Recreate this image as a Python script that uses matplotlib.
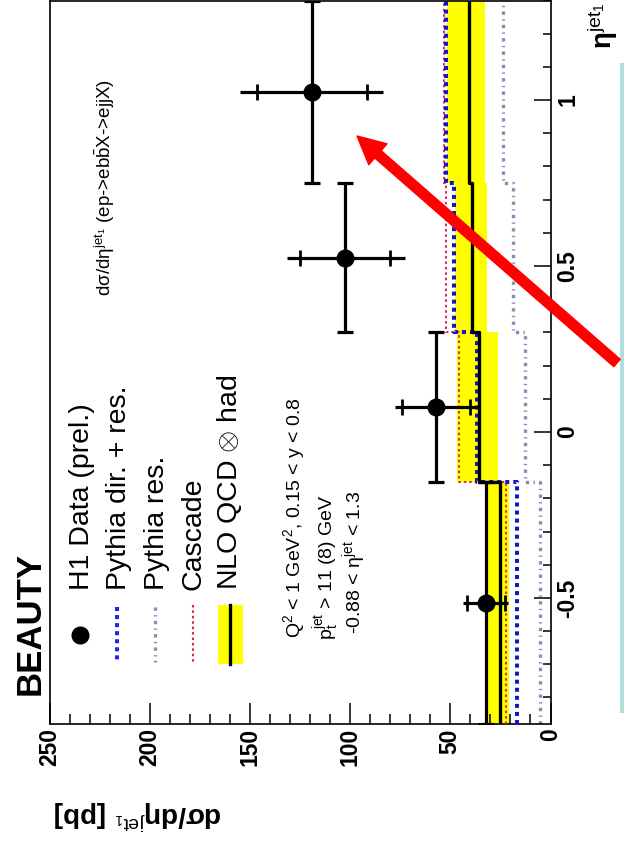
import numpy as np
import matplotlib
matplotlib.use("Agg")
import matplotlib.pyplot as plt
from matplotlib.patches import Rectangle
from matplotlib.ticker import MultipleLocator

plt.rcParams['font.family'] = ['Liberation Sans', 'DejaVu Sans']
plt.rcParams['mathtext.fontset'] = 'custom'
plt.rcParams['mathtext.rm'] = 'Liberation Sans'
plt.rcParams['mathtext.it'] = 'Liberation Sans:italic'
plt.rcParams['mathtext.bf'] = 'Liberation Sans:bold'

# bins in eta(jet1) and cross sections [pb]
eta_edges = np.array([-0.88, -0.15, 0.30, 0.75, 1.30])
h1_xsec = np.array([32.0, 57.0, 102.5, 119.0])
h1_tot_up = np.array([11.5, 20.5, 29.0, 36.0])
h1_tot_dn = np.array([11.0, 22.0, 30.0, 35.5])
h1_stat = np.array([9.5, 17.0, 22.5, 27.5])

pythia_dir_res = np.array([16.5, 36.5, 48.0, 52.0])
pythia_res = np.array([5.0, 12.5, 18.5, 23.5])
cascade = np.array([22.0, 45.5, 52.0, 53.0])
nlo = np.array([25.0, 35.5, 39.0, 40.5])
nlo_lo = np.array([20.5, 26.0, 31.5, 32.5])
nlo_hi = np.array([31.5, 46.5, 47.5, 51.5])

xsec_ticks = [0, 50, 100, 150, 200, 250]
eta_ticks = [-0.5, 0, 0.5, 1]

W, H = 624, 861
fig = plt.figure(figsize=(W / 100, H / 100), dpi=100)

# the whole plot is turned by 90 degrees: cross section runs right->left, eta upward
ax = fig.add_axes([49.5 / W, (H - 724) / H, 501 / W, 723.5 / H])
ax.set_xlim(250, 0)
ax.set_ylim(eta_edges[0], eta_edges[-1])


def steps(vals):
    xs = np.repeat(vals, 2)
    ys = np.column_stack([eta_edges[:-1], eta_edges[1:]]).ravel()
    return xs, ys


ax.fill_betweenx(eta_edges, np.append(nlo_lo, nlo_lo[-1]), np.append(nlo_hi, nlo_hi[-1]),
                 step='post', color='#ffff00', lw=0, zorder=1)

x, y = steps(pythia_res)
ax.plot(x, y, color='#8c8cb0', lw=2.4, ls=(0, (1, 1.3, 0.4, 1.3)), zorder=2)
x, y = steps(cascade)
ax.plot(x, y, color='#d8304a', lw=1.5, ls=(0, (1.2, 1.4)), zorder=3)
x, y = steps(pythia_dir_res)
ax.plot(x, y, color='#1515c8', lw=2.9, ls=(0, (1, 1)), zorder=3)
x, y = steps(nlo)
ax.plot(x, y, color='black', lw=2.4, zorder=4)

eta_c = 0.5 * (eta_edges[:-1] + eta_edges[1:])
eta_hw = 0.5 * (eta_edges[1:] - eta_edges[:-1])
ax.errorbar(h1_xsec, eta_c, yerr=eta_hw, fmt='none', ecolor='black', elinewidth=2.3,
            capsize=5.8, capthick=2.3, zorder=5)
ax.errorbar(h1_xsec, eta_c, xerr=[h1_tot_dn, h1_tot_up], fmt='none', ecolor='black',
            elinewidth=2.3, capsize=0, zorder=5)
ax.plot(np.concatenate([h1_xsec - h1_stat, h1_xsec + h1_stat]), np.concatenate([eta_c, eta_c]),
        ls='none', marker='|', ms=11, mew=2, color='black', zorder=5)
ax.plot(h1_xsec, eta_c, 'o', color='black', ms=12, zorder=6)

for s in ax.spines.values():
    s.set_linewidth(1.2)
ax.xaxis.set_major_locator(MultipleLocator(50))
ax.xaxis.set_minor_locator(MultipleLocator(10))
ax.set_xticks(xsec_ticks)
ax.yaxis.set_major_locator(MultipleLocator(0.5))
ax.yaxis.set_minor_locator(MultipleLocator(0.1))
ax.set_yticks(eta_ticks)
ax.yaxis.tick_right()
ax.tick_params(axis='x', which='both', direction='in', top=False, labelrotation=90, pad=3,
               labelsize=16.5)
ax.tick_params(axis='x', which='major', length=15, width=1.1)
ax.tick_params(axis='x', which='minor', length=7, width=1.1)
ax.tick_params(axis='y', which='both', direction='in', left=False, right=True,
               labelright=True, labelrotation=90, pad=4, labelsize=16.5)
ax.tick_params(axis='y', which='major', length=12, width=1.1)
ax.tick_params(axis='y', which='minor', length=6, width=1.1)
ax.set_xticklabels([str(t) for t in xsec_ticks], fontweight='bold')
ax.set_yticklabels(['-0.5', '0', '0.5', '1'], fontweight='bold', va='center')

# overlay in pixel coordinates for the texts, the legend and the arrow
ov = fig.add_axes([0, 0, 1, 1], zorder=10)
ov.set_xlim(0, W)
ov.set_ylim(H, 0)
ov.axis('off')

ov.text(30, 623, 'BEAUTY', rotation=90, ha='center', va='center', fontsize=25, fontweight='bold')

leg_x = [82, 119, 157, 193, 230]
leg_txt = ['H1 Data (prel.)', 'Pythia dir. + res.', 'Pythia res.', 'Cascade',
           r'NLO QCD $\otimes$ had']
for lx, t in zip(leg_x, leg_txt):
    ov.text(lx, 590, t, rotation=90, ha='center', va='bottom', fontsize=20.5)
ov.plot([80], [635], 'o', color='black', ms=12)
ov.plot([117, 117], [607, 662], color='#2222ee', lw=2.9, ls=(0, (1, 1)))
ov.plot([155, 155], [607, 662], color='#8c8cb0', lw=2.4, ls=(0, (1, 1.3, 0.4, 1.3)))
ov.plot([193, 193], [605, 662], color='#c83040', lw=1.5, ls=(0, (1.2, 1.4)))
ov.add_patch(Rectangle((218, 605), 25, 59, color='#ffff00', lw=0))
ov.plot([230, 230], [605, 664], color='black', lw=2.4)

ov.text(294, 638, r'Q$^2$ < 1 GeV$^2$, 0.15 < y < 0.8', rotation=90, ha='center',
        va='bottom', fontsize=14)
ov.text(327, 640, r'p$_{\mathrm{t}}^{\mathrm{jet}}$ > 11 (8) GeV', rotation=90, ha='center',
        va='bottom', fontsize=14)
ov.text(354, 634, r'-0.88 < η$^{\mathrm{jet}}$ < 1.3', rotation=90, ha='center',
        va='bottom', fontsize=14)
ov.text(105, 296, r'dσ/dη$^{\mathrm{jet}_1}$ (ep->eb$\bar{\mathrm{b}}$X->ejjX)',
        rotation=90, ha='center', va='bottom', fontsize=13.5)

ov.text(138, 815, r'dσ/dη$^{\mathrm{jet}_1}$ [pb]', rotation=180, ha='center',
        va='center', fontsize=20, fontweight='bold')
ov.text(603, 2, r'η$^{\mathrm{jet}_1}$', rotation=90, ha='center', va='top',
        fontsize=20, fontweight='bold')

ov.add_patch(Rectangle((620, 63), 4, 650, color='#b3dede', lw=0))

ov.annotate('', xy=(357, 136), xytext=(617, 363),
            arrowprops=dict(arrowstyle='simple,head_length=20,head_width=20,tail_width=7',
                            mutation_scale=1, color='#ff0000', shrinkA=0, shrinkB=0))

fig.savefig('out.png', dpi=100)
